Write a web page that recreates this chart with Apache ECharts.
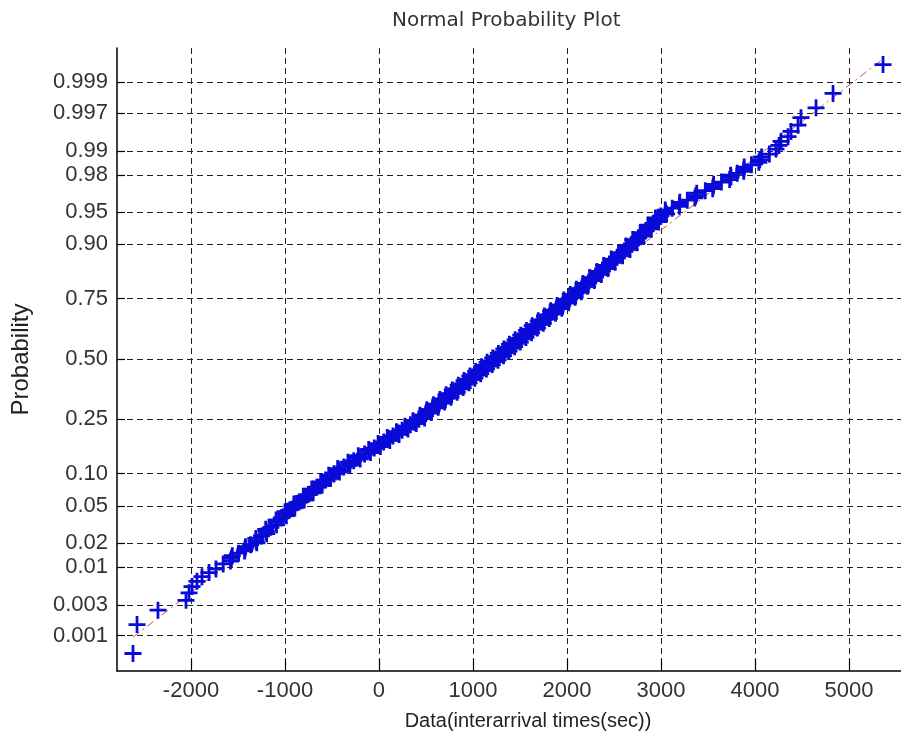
<!DOCTYPE html>
<html>
<head>
<meta charset="utf-8">
<script src="https://cdn.jsdelivr.net/npm/echarts@6/dist/echarts.min.js"></script>
<style>html,body{margin:0;padding:0;background:#fff;}#chart{width:901px;height:740px;}</style>
</head>
<body>
<div id="chart"></div>
<script>
// ---- data: [value, probability] ----
const lowerTail = [
  [-2617,0.0005],[-2574,0.0015],[-2351,0.0025],[-2053,0.0035],[-2021,0.0045],
  [-1989,0.0055],[-1936,0.0065],[-1883,0.0075],[-1808,0.0085],[-1734,0.0095]
];
const bandPoints = [
  [-1658,0.011],[-1570,0.013],[-1494,0.015],[-1425,0.017],[-1365,0.019],[-1308,0.021],
  [-1250,0.024],[-1199,0.027],[-1150,0.030],[-1093,0.034],[-1040,0.038],[-994,0.042],
  [-948,0.046],[-904,0.050],[-850,0.055],[-801,0.060],[-753,0.065],[-710,0.070],
  [-661,0.076],[-614,0.082],[-568,0.088],[-527,0.094],[-479,0.100],[-431,0.107],
  [-374,0.114],[-319,0.121],[-268,0.128],[-210,0.136],[-153,0.144],[-100,0.152],
  [-50,0.160],[0,0.168],[50,0.177],[101,0.186],[149,0.195],[199,0.204],[246,0.213],
  [290,0.222],[334,0.231],[379,0.240],[424,0.250],[462,0.26],[497,0.27],[534,0.28],
  [570,0.29],[605,0.30],[639,0.31],[673,0.32],[707,0.33],[740,0.34],[773,0.35],
  [806,0.36],[838,0.37],[870,0.38],[901,0.39],[932,0.40],[963,0.41],[994,0.42],
  [1025,0.43],[1056,0.44],[1086,0.45],[1117,0.46],[1149,0.47],[1178,0.48],[1209,0.49],
  [1239,0.50],[1268,0.51],[1298,0.52],[1327,0.53],[1356,0.54],[1387,0.55],[1416,0.56],
  [1446,0.57],[1476,0.58],[1506,0.59],[1536,0.60],[1566,0.61],[1596,0.62],[1628,0.63],
  [1657,0.64],[1690,0.65],[1721,0.66],[1754,0.67],[1787,0.68],[1820,0.69],[1852,0.70],
  [1886,0.71],[1921,0.72],[1957,0.73],[1992,0.74],[2027,0.75],[2062,0.76],[2095,0.769],
  [2127,0.778],[2160,0.787],[2195,0.796],[2231,0.805],[2266,0.814],[2304,0.823],
  [2342,0.832],[2378,0.840],[2413,0.848],[2452,0.856],[2491,0.864],[2533,0.872],
  [2570,0.879],[2609,0.886],[2650,0.893],[2689,0.900],[2723,0.906],[2758,0.912],
  [2797,0.918],[2838,0.924],[2880,0.930],[2917,0.935],[2957,0.940],[2999,0.945],
  [3047,0.950],[3119,0.954],[3198,0.958],[3280,0.962],[3370,0.966],[3471,0.970],
  [3555,0.973],[3643,0.976],[3745,0.979],[3811,0.981],[3882,0.983],[3962,0.985],
  [4050,0.987],[4153,0.989]
];
// points on the left / right edges of the dense band
const bandEdgePoints = [
  [-1580,0.012],[-1560,0.014],[-1430,0.016],[-1420,0.018],[-1300,0.020],[-1310,0.0225],
  [-1195,0.0255],[-1205,0.0285],[-1090,0.032],[-1095,0.036],[-985,0.040],[-1000,0.044],
  [-895,0.048],[-905,0.0525],[-795,0.0575],[-805,0.0625],[-700,0.0675],[-715,0.073],
  [-605,0.079],[-620,0.085],[-515,0.091],[-535,0.097],[-420,0.1035],[-440,0.1105],
  [-310,0.1175],[-330,0.1245],[-200,0.132],[-220,0.140],[-90,0.148],[-110,0.156],
  [15,0.164],[-10,0.1725],[115,0.1815],[88,0.1905],[214,0.1995],[185,0.2085],
  [308,0.2175],[275,0.2265],[397,0.2355],[362,0.245],[485,0.255],[437,0.265],
  [557,0.275],[510,0.285],[630,0.295],[580,0.305],[698,0.315],[648,0.325],
  [766,0.335],[714,0.345],[832,0.355],[780,0.365],[896,0.375],[843,0.385],
  [958,0.395],[905,0.405],[1020,0.415],[967,0.425],[1082,0.435],[1028,0.445],
  [1143,0.455],[1090,0.465],[1205,0.475],[1150,0.485],[1266,0.495],[1210,0.505],
  [1325,0.515],[1270,0.525],[1383,0.535],[1328,0.545],[1443,0.555],[1388,0.565],
  [1503,0.575],[1448,0.585],[1563,0.595],[1508,0.605],[1623,0.615],[1569,0.625],
  [1685,0.635],[1630,0.645],[1748,0.655],[1694,0.665],[1812,0.675],[1760,0.685],
  [1878,0.695],[1826,0.705],[1945,0.715],[1896,0.725],[2016,0.735],[1966,0.745],
  [2086,0.755],[2035,0.7645],[2152,0.7735],[2100,0.7825],[2218,0.7915],[2170,0.8005],
  [2290,0.8095],[2242,0.8185],[2364,0.8275],[2318,0.836],[2436,0.844],[2390,0.852],
  [2512,0.860],[2470,0.868],[2592,0.8755],[2548,0.8825],[2670,0.8895],[2628,0.8965],
  [2745,0.903],[2700,0.909],[2816,0.915],[2778,0.921],[2898,0.927],[2860,0.9325],
  [2975,0.9375],[2940,0.9425],[3060,0.9475],[3045,0.952],[3195,0.956],[3200,0.960],
  [3360,0.964],[3380,0.968],[3550,0.9715],[3560,0.9745],[3730,0.9775],[3740,0.980],
  [3880,0.982],[3885,0.984],[4040,0.986],[4070,0.988]
];
const upperTail = [
  [4223,0.9905],[4255,0.9915],[4277,0.9925],[4351,0.9935],[4383,0.9945],
  [4457,0.9955],[4489,0.9965],[4649,0.9975],[4830,0.9985],[5362,0.9995]
];
const fitLine = [[-2617,0.00094],[5362,0.9996]];
const yTickProbs = [0.001,0.003,0.01,0.02,0.05,0.10,0.25,0.50,0.75,0.90,0.95,0.98,0.99,0.997,0.999];
const yTickLabels = ['0.001','0.003','0.01','0.02','0.05','0.10','0.25','0.50','0.75','0.90','0.95','0.98','0.99','0.997','0.999'];
const xTicks = [-2000,-1000,0,1000,2000,3000,4000,5000];

// ---- normal probability scale (inverse normal CDF) ----
function probit(p){
  const a=[-3.969683028665376e+01,2.209460984245205e+02,-2.759285104469687e+02,1.383577518672690e+02,-3.066479806614716e+01,2.506628277459239e+00];
  const b=[-5.447609879822406e+01,1.615858368580409e+02,-1.556989798598866e+02,6.680131188771972e+01,-1.328068155288572e+01];
  const c=[-7.784894002430293e-03,-3.223964580411365e-01,-2.400758277161838e+00,-2.549732539343734e+00,4.374664141464968e+00,2.938163982698783e+00];
  const d=[7.784695709041462e-03,3.224671290700398e-01,2.445134137142996e+00,3.754408661907416e+00];
  const pl=0.02425, ph=1-pl;
  if(p<pl){const q=Math.sqrt(-2*Math.log(p));return (((((c[0]*q+c[1])*q+c[2])*q+c[3])*q+c[4])*q+c[5])/((((d[0]*q+d[1])*q+d[2])*q+d[3])*q+1);}
  if(p<=ph){const q=p-0.5,r=q*q;return (((((a[0]*r+a[1])*r+a[2])*r+a[3])*r+a[4])*r+a[5])*q/(((((b[0]*r+b[1])*r+b[2])*r+b[3])*r+b[4])*r+1);}
  const q=Math.sqrt(-2*Math.log(1-p));return -(((((c[0]*q+c[1])*q+c[2])*q+c[3])*q+c[4])*q+c[5])/((((d[0]*q+d[1])*q+d[2])*q+d[3])*q+1);
}
const toZ = pts => pts.map(([x,p]) => [x, probit(p)]);
const yTickZ = yTickProbs.map(probit);
function yLabel(v){
  let best=0;
  for(let i=1;i<yTickZ.length;i++){ if(Math.abs(yTickZ[i]-v)<Math.abs(yTickZ[best]-v)) best=i; }
  return yTickLabels[best];
}

const gridLine = {show:true, lineStyle:{color:'#222', width:1, type:[6,4]}};
const plus = 'path://M-1.3,-8L1.3,-8L1.3,-1.3L8,-1.3L8,1.3L1.3,1.3L1.3,8L-1.3,8L-1.3,1.3L-8,1.3L-8,-1.3L-1.3,-1.3Z';

const chart = echarts.init(document.getElementById('chart'), null, {renderer:'canvas'});
chart.setOption({
  backgroundColor:'#fff',
  animation:false,
  title:{
    text:'Normal Probability Plot', left:387, top:6,
    textStyle:{fontFamily:'DejaVu Sans', fontSize:20, fontWeight:'normal', color:'#333'}
  },
  grid:{left:117, right:0, top:48, bottom:69, containLabel:false},
  xAxis:{
    type:'value', min:-2787, max:5553,
    name:'Data(interarrival times(sec))', nameLocation:'middle', nameGap:40,
    nameTextStyle:{fontFamily:'Liberation Sans', fontSize:20, color:'#222', padding:[0,0,0,38]},
    axisLine:{show:true, onZero:false, lineStyle:{color:'#000', width:1.5}},
    axisTick:{show:true, inside:true, length:12, customValues:xTicks, lineStyle:{color:'#000', width:1.2}},
    axisLabel:{customValues:xTicks, margin:9, fontFamily:'Liberation Sans', fontSize:22, color:'#333',
               formatter: v => String(v)},
    splitLine:gridLine
  },
  yAxis:{
    type:'value', min:-3.486, max:3.475,
    name:'Probability', nameLocation:'middle', nameGap:84, nameRotate:90,
    nameTextStyle:{fontFamily:'Liberation Sans', fontSize:24, color:'#222'},
    axisLine:{show:true, onZero:false, lineStyle:{color:'#000', width:1.5}},
    axisTick:{show:true, inside:true, length:8, customValues:yTickZ, lineStyle:{color:'#000', width:1.2}},
    axisLabel:{customValues:yTickZ, margin:9, fontFamily:'Liberation Sans', fontSize:22, color:'#333', formatter:yLabel},
    splitLine:gridLine
  },
  series:[
    {type:'line', data:toZ(fitLine), symbol:'none', silent:true, z:1,
     lineStyle:{color:'#d05050', width:1, type:[8,4,2,4]}},
    {type:'scatter', data:toZ(lowerTail.concat(bandPoints, bandEdgePoints, upperTail)),
     symbol:plus, symbolSize:17, silent:true, z:2,
     itemStyle:{color:'#0a0ad8', opacity:1}}
  ]
});
</script>
</body>
</html>
